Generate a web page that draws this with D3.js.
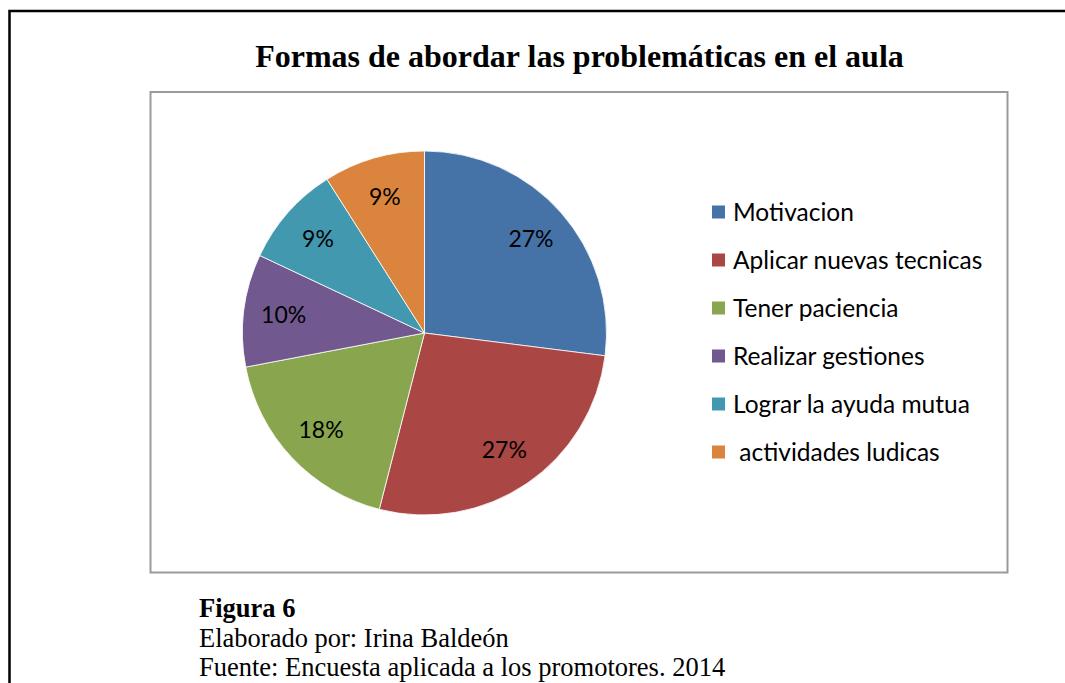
<!DOCTYPE html>
<html>
<head>
<meta charset="utf-8">
<script src="https://cdn.jsdelivr.net/npm/d3@7"></script>
<style>
  body { margin: 0; background: #fff; }
  svg text { fill: #000; }
</style>
</head>
<body>
<div class="display"></div>
<script>
// Pie chart: formas de abordar las problematicas en el aula

const WIDTH = 1065;
const HEIGHT = 683;

const categories = ['Motivacion', 'Aplicar nuevas tecnicas', 'Tener paciencia', 'Realizar gestiones', 'Lograr la ayuda mutua', ' actividades ludicas'];
const percents = [27, 27, 18, 10, 9, 9];
const colors = ['#4572A7', '#AA4643', '#89A54E', '#71588F', '#4198AF', '#DB843D'];

const title = 'Formas de abordar las problemáticas en el aula';
const captionLines = ['Figura 6', 'Elaborado por: Irina Baldeón', 'Fuente: Encuesta aplicada a los promotores. 2014'];

const svg = d3.select('.display')
  .append('svg')
  .attr('width', WIDTH)
  .attr('height', HEIGHT);

// outer page frame (only top and left edges visible)
svg.append('path')
  .attr('d', 'M9.5,' + (HEIGHT + 5) + 'V11H' + (WIDTH + 5))
  .attr('fill', 'none')
  .attr('stroke', '#000')
  .attr('stroke-width', 2.5);

// chart area box
svg.append('rect')
  .attr('x', 150.5)
  .attr('y', 92)
  .attr('width', 857)
  .attr('height', 480.5)
  .attr('fill', '#fff')
  .attr('stroke', '#9a9a9a')
  .attr('stroke-width', 2);

svg.append('text')
  .attr('x', 579.5)
  .attr('y', 67)
  .attr('text-anchor', 'middle')
  .attr('font-family', '"Liberation Serif", "Times New Roman", serif')
  .attr('font-weight', 'bold')
  .attr('font-size', 32)
  .text(title);

const cx = 424.5, cy = 333, radius = 182;

const pie = d3.pie().sort(null).value(d => d.value);
const arc = d3.arc().innerRadius(0).outerRadius(radius);
const labelArc = d3.arc().innerRadius(radius * 0.78).outerRadius(radius * 0.78);

const slices = pie(categories.map((c, i) => ({ name: c, value: percents[i], color: colors[i] })));

const g = svg.append('g').attr('transform', `translate(${cx},${cy})`);

g.selectAll('path')
  .data(slices)
  .enter()
  .append('path')
  .attr('d', arc)
  .attr('fill', d => d.data.color)
  .attr('stroke', '#fff')
  .attr('stroke-width', 0.8);

g.selectAll('text')
  .data(slices)
  .enter()
  .append('text')
  .attr('transform', d => `translate(${labelArc.centroid(d)})`)
  .attr('text-anchor', 'middle')
  .attr('dy', '0.35em')
  .attr('font-family', 'Lato, "Open Sans", sans-serif')
  .attr('font-size', 23)
  .text(d => d.data.value + '%');

// legend
const legendY = d3.scalePoint()
  .domain(categories)
  .range([212, 452]);

const legend = svg.append('g');
const item = legend.selectAll('g')
  .data(categories)
  .enter()
  .append('g')
  .attr('transform', d => `translate(712,${legendY(d)})`);

item.append('rect')
  .attr('x', 0)
  .attr('y', -6.5)
  .attr('width', 13)
  .attr('height', 13)
  .attr('fill', (d, i) => colors[i]);

item.append('text')
  .attr('x', 21)
  .attr('dy', '0.35em')
  .attr('font-family', 'Lato, "Open Sans", sans-serif')
  .attr('font-size', 24.5)
  .attr('xml:space', 'preserve')
  .style('white-space', 'pre')
  .text(d => d);

// caption below the chart
svg.selectAll('.caption')
  .data(captionLines)
  .enter()
  .append('text')
  .attr('class', 'caption')
  .attr('x', 199)
  .attr('y', (d, i) => 617 + i * 29.5)
  .attr('font-family', '"Liberation Serif", "Times New Roman", serif')
  .attr('font-weight', (d, i) => i === 0 ? 'bold' : 'normal')
  .attr('font-size', 26.5)
  .text(d => d);
</script>
</body>
</html>
